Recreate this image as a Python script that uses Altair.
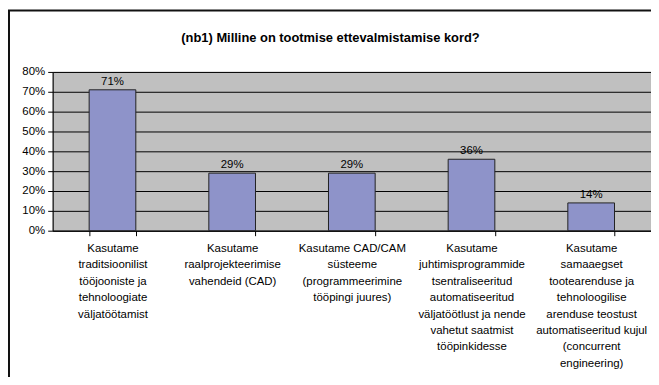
import altair as alt
import pandas as pd

title_text = "(nb1) Milline on tootmise ettevalmistamise kord?"
categories = [
    ["Kasutame", "traditsioonilist", "tööjooniste ja", "tehnoloogiate", "väljatöötamist"],
    ["Kasutame", "raalprojekteerimise", "vahendeid (CAD)"],
    ["Kasutame CAD/CAM", "süsteeme", "(programmeerimine", "tööpingi juures)"],
    ["Kasutame", "juhtimisprogrammide", "tsentraliseeritud", "automatiseeritud",
     "väljatöötlust ja nende", "vahetut saatmist", "tööpinkidesse"],
    ["Kasutame", "samaaegset", "tootearenduse ja", "tehnoloogilise",
     "arenduse teostust", "automatiseeritud kujul", "(concurrent", "engineering)"],
]
values = [0.71, 0.29, 0.29, 0.36, 0.14]
y_ticks = [0, 0.1, 0.2, 0.3, 0.4, 0.5, 0.6, 0.7, 0.8]

df = pd.DataFrame({"cat": ["\n".join(c) for c in categories], "value": values})
order = list(df["cat"])

FONT = "Liberation Sans"

x_enc = alt.X(
    "cat:N", sort=order,
    scale=alt.Scale(paddingInner=0.61, paddingOuter=0.305),
    axis=alt.Axis(
        title=None, labelAngle=0, labelExpr="split(datum.label, '\\n')",
        labelFontSize=11.5, labelFont=FONT, labelColor="#000", labelLineHeight=16.5,
        labelPadding=7, labelBaseline="top", tickBand="extent", tickSize=5,
        tickColor="#000", domainColor="#000", grid=False, labelLimit=200,
    ),
)
y_enc = alt.Y(
    "value:Q",
    scale=alt.Scale(domain=[0, 0.8], nice=False),
    axis=alt.Axis(
        title=None, format=".0%", values=y_ticks, labelFontSize=11.5, labelFont=FONT,
        labelColor="#000", tickSize=5, tickColor="#000", domainColor="#000",
        grid=True, gridColor="#000", gridWidth=1, labelPadding=3,
        labelOverlap=False,
    ),
)

bars = alt.Chart(df).mark_bar(
    color="#8E93C9", stroke="#222222", strokeWidth=1
).encode(x=x_enc, y=y_enc)

labels = alt.Chart(df).mark_text(
    baseline="bottom", dy=-3, font=FONT, fontSize=11.5, color="#000"
).encode(x=x_enc, y=y_enc, text=alt.Text("value:Q", format=".0%"))

frame_df = pd.DataFrame({"a": [0]})
frame = alt.Chart(frame_df).mark_rect(
    fill="white", fillOpacity=0, stroke="#111", strokeWidth=2
).encode(x=alt.value(-44), x2=alt.value(700), y=alt.value(-62), y2=alt.value(400))

title = alt.Chart(frame_df).mark_text(
    font=FONT, fontSize=13, fontWeight="bold", color="#000",
    align="center", baseline="middle", text=title_text,
).encode(x=alt.value(280), y=alt.value(-34))

chart = alt.layer(frame, title, bars, labels).properties(
    width=603, height=160,
    autosize=alt.AutoSizeParams(type="none"),
    padding={"left": 45, "top": 63, "right": 0, "bottom": 146},
).configure_view(fill="#C0C0C0", stroke="#808080", strokeWidth=1)

chart.save("out.html", embed_options={"renderer": "svg", "actions": False})
